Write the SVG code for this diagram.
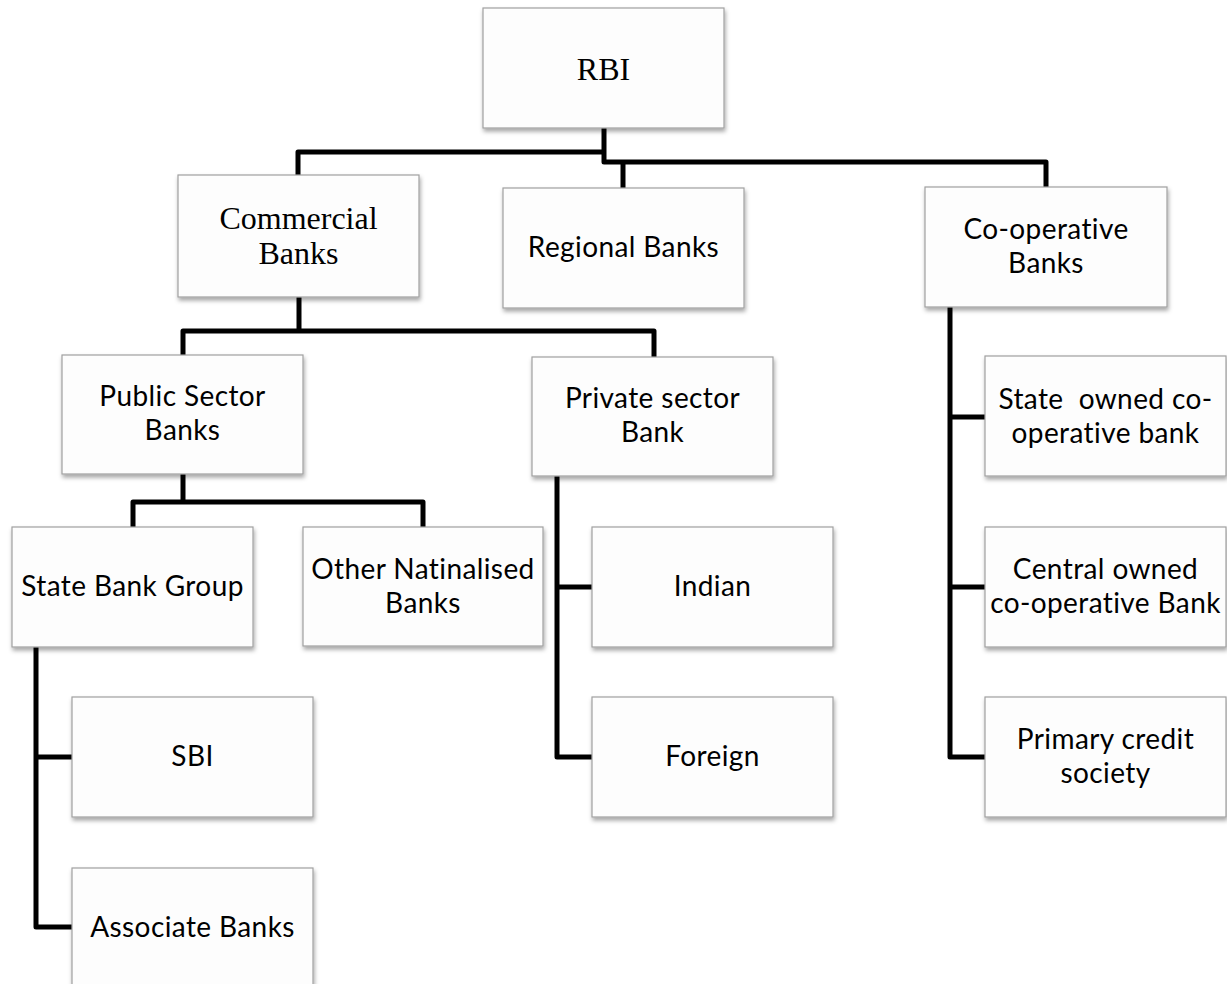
<svg xmlns="http://www.w3.org/2000/svg" width="1227" height="984" viewBox="0 0 1227 984">
<defs>
<filter id="sh" x="-10%" y="-10%" width="125%" height="130%">
<feDropShadow dx="1" dy="3" stdDeviation="2" flood-color="#000" flood-opacity="0.35"/>
</filter>
<style>
.box{fill:#fdfdfd;stroke:#a0a0a0;stroke-width:1.2;filter:url(#sh)}
.sans{font-family:Lato,"Liberation Sans",sans-serif;font-size:28px;letter-spacing:0.4px;fill:#000;text-anchor:middle;white-space:pre}
.serif{font-family:"Liberation Serif","DejaVu Serif",serif;font-size:32px;fill:#000;text-anchor:middle}
.con{fill:none;stroke:#000;stroke-width:5;stroke-linejoin:round;stroke-linecap:butt}
</style>
</defs>
<rect width="1227" height="984" fill="#fff"/>
<g id="connectors">
<path class="con" d="M298,175 V152 H604"/>
<path class="con" d="M604,128 V162 H1046 V187"/>
<path class="con" d="M623,162 V188"/>
<path class="con" d="M299,297 V331"/>
<path class="con" d="M183,355 V331 H654 V357"/>
<path class="con" d="M183,474 V502"/>
<path class="con" d="M133,527 V502 H423 V527"/>
<path class="con" d="M36,647 V927 H72"/>
<path class="con" d="M36,757 H72"/>
<path class="con" d="M557,476 V757 H592"/>
<path class="con" d="M557,587 H592"/>
<path class="con" d="M950,307 V757 H985"/>
<path class="con" d="M950,417 H985"/>
<path class="con" d="M950,587 H985"/>
</g>
<g id="rbi"><rect class="box" x="483" y="8" width="241" height="120"/><text class="serif" x="603.5" y="80">RBI</text></g>
<g id="commercial"><rect class="box" x="178" y="175" width="241" height="122"/><text class="serif" x="298.5" y="229">Commercial</text><text class="serif" x="298.5" y="264">Banks</text></g>
<g id="regional"><rect class="box" x="503" y="188" width="241" height="120"/><text class="sans" x="623.5" y="257">Regional Banks</text></g>
<g id="cooperative"><rect class="box" x="925" y="187" width="242" height="120"/><text class="sans" x="1046" y="239">Co-operative</text><text class="sans" x="1046" y="273">Banks</text></g>
<g id="public"><rect class="box" x="62" y="355" width="241" height="119"/><text class="sans" x="182.5" y="406">Public Sector</text><text class="sans" x="182.5" y="440">Banks</text></g>
<g id="private"><rect class="box" x="532" y="357" width="241" height="119"/><text class="sans" x="652.5" y="408">Private sector</text><text class="sans" x="652.5" y="442">Bank</text></g>
<g id="statebank"><rect class="box" x="12" y="527" width="241" height="120"/><text class="sans" x="132.5" y="596">State Bank Group</text></g>
<g id="othernat"><rect class="box" x="303" y="527" width="240" height="119"/><text class="sans" x="423" y="579">Other Natinalised</text><text class="sans" x="423" y="613">Banks</text></g>
<g id="indian"><rect class="box" x="592" y="527" width="241" height="120"/><text class="sans" x="712.5" y="596">Indian</text></g>
<g id="foreign"><rect class="box" x="592" y="697" width="241" height="120"/><text class="sans" x="712.5" y="766">Foreign</text></g>
<g id="stateowned"><rect class="box" x="985" y="356" width="241" height="120"/><text class="sans" x="1105.5" y="409">State  owned co-</text><text class="sans" x="1105.5" y="443">operative bank</text></g>
<g id="centralowned"><rect class="box" x="985" y="527" width="241" height="120"/><text class="sans" x="1105.5" y="579">Central owned</text><text class="sans" x="1105.5" y="613">co-operative Bank</text></g>
<g id="primary"><rect class="box" x="985" y="697" width="241" height="120"/><text class="sans" x="1105.5" y="749">Primary credit</text><text class="sans" x="1105.5" y="783">society</text></g>
<g id="sbi"><rect class="box" x="72" y="697" width="241" height="120"/><text class="sans" x="192.5" y="766">SBI</text></g>
<g id="associate"><rect class="box" x="72" y="868" width="241" height="120"/><text class="sans" x="192.5" y="937">Associate Banks</text></g>
</svg>
